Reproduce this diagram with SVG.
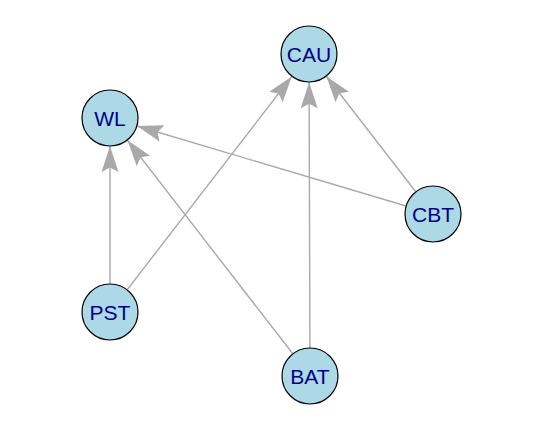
<svg xmlns="http://www.w3.org/2000/svg" width="536" height="432" viewBox="0 0 536 432">
<style>
.edge{stroke:#A9A9A9;stroke-width:1.4;fill:none;marker-end:url(#arr)}
.node circle{fill:#ADD8E6;stroke:#000;stroke-width:1.2}
.node text{font-family:"Liberation Sans",Arial,sans-serif;font-size:21px;fill:#00008B;text-anchor:middle}
</style>
<defs>
<marker id="arr" markerUnits="userSpaceOnUse" markerWidth="28" markerHeight="18" refX="26" refY="8.5" orient="auto" overflow="visible">
<path d="M26,8.5 L0,0 L4.5,8.5 L0,17 Z" fill="#A9A9A9"/>
</marker>
</defs>
<rect width="536" height="432" fill="#fff"/>
<g id="edges">
<line class="edge" x1="110" y1="312" x2="110" y2="146"/>
<line class="edge" x1="310" y1="376" x2="127.5" y2="140.3"/>
<line class="edge" x1="433" y1="214" x2="137" y2="126"/>
<line class="edge" x1="110" y1="312" x2="291.8" y2="76.4"/>
<line class="edge" x1="310" y1="376" x2="309.1" y2="82.3"/>
<line class="edge" x1="433" y1="214" x2="326.3" y2="76.3"/>
</g>
<g id="CAU" class="node"><circle cx="309" cy="54" r="28"/><text x="309" y="61.5">CAU</text></g>
<g id="WL" class="node"><circle cx="110" cy="118" r="28"/><text x="110" y="125.5">WL</text></g>
<g id="CBT" class="node"><circle cx="433" cy="214" r="28"/><text x="433" y="221.5">CBT</text></g>
<g id="PST" class="node"><circle cx="110" cy="312" r="28"/><text x="110" y="319.5">PST</text></g>
<g id="BAT" class="node"><circle cx="310" cy="376" r="28"/><text x="310" y="383.5">BAT</text></g>
</svg>
